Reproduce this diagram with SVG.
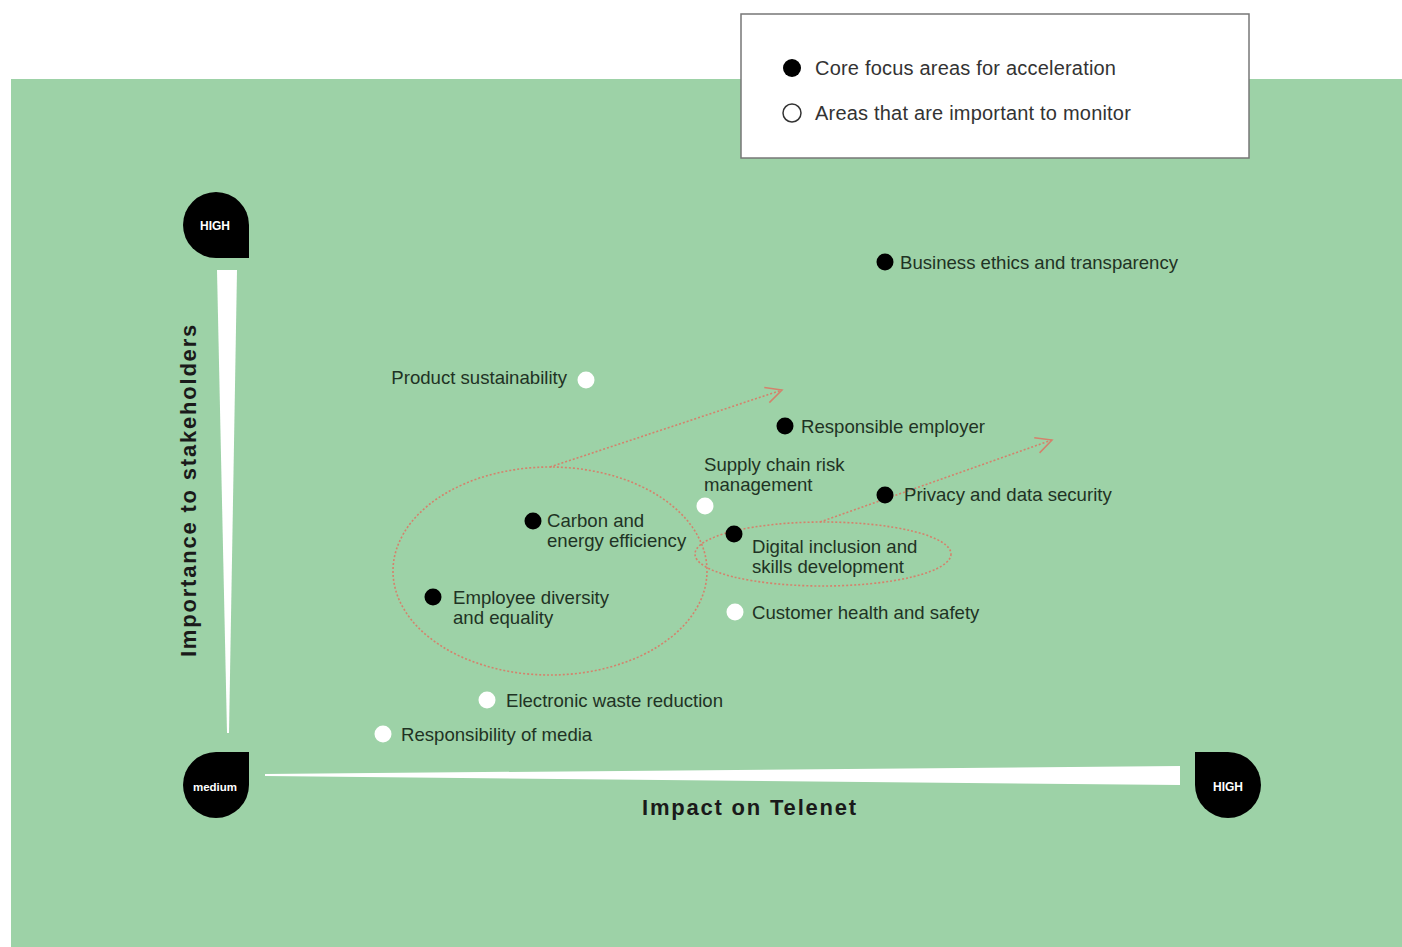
<svg xmlns="http://www.w3.org/2000/svg" width="1402" height="947" viewBox="0 0 1402 947">
<style>
.lbl{font-family:"Liberation Sans",Arial,sans-serif;font-size:18.6px;fill:#1f3324}
.leg{font-family:"Liberation Sans",Arial,sans-serif;font-size:20px;fill:#333;letter-spacing:0.2px}
.core{fill:#000}
.mon{fill:#fff}
.tag{font-family:"Liberation Sans",Arial,sans-serif;font-weight:bold;fill:#fff;text-anchor:middle}
.axis{font-family:"Liberation Sans",Arial,sans-serif;font-weight:900;font-size:22px;fill:#1a1a1a;text-anchor:middle;letter-spacing:1.8px}
.dot{fill:none;stroke:#d4826c;stroke-width:1.6;stroke-dasharray:2 2}
</style>
<defs>
<marker id="chev" viewBox="0 0 20 20" refX="18" refY="10" markerWidth="20" markerHeight="20" markerUnits="userSpaceOnUse" orient="auto">
<path d="M2,2 L18,10 L2,18" fill="none" stroke="#d4826c" stroke-width="1.5"/>
</marker>
</defs>
<rect x="0" y="0" width="1402" height="947" fill="#fff"/>
<rect x="11" y="79" width="1391" height="868" fill="#9dd2a7"/>

<g id="legend">
<rect x="741" y="14" width="508" height="144" fill="#fff" stroke="#777" stroke-width="1.5"/>
<circle cx="792" cy="68" r="9" fill="#000"/>
<text class="leg" x="815" y="75">Core focus areas for acceleration</text>
<circle cx="792" cy="113" r="9" fill="#fff" stroke="#333" stroke-width="1.5"/>
<text class="leg" x="815" y="120">Areas that are important to monitor</text>
</g>

<g id="axis-y">
<path d="M249,225 L249,258 L216,258 A33,33 0 1 1 249,225 Z" fill="#000"/>
<text class="tag" x="215" y="230" font-size="12">HIGH</text>
<polygon points="217,270 237,270 229,733 227,733" fill="#fff"/>
<text class="axis" transform="translate(196,490) rotate(-90)">Importance to stakeholders</text>
</g>

<g id="origin">
<path d="M249,785 L249,752 L216,752 A33,33 0 1 0 249,785 Z" fill="#000"/>
<text class="tag" x="215" y="791" font-size="11.5">medium</text>
</g>

<g id="axis-x">
<polygon points="265,774 1180,766 1180,785 265,776" fill="#fff"/>
<path d="M1195,785 L1195,752 L1228,752 A33,33 0 1 1 1195,785 Z" fill="#000"/>
<text class="tag" x="1228" y="791" font-size="12">HIGH</text>
<text class="axis" x="750" y="815">Impact on Telenet</text>
</g>

<g id="connectors">
<ellipse class="dot" cx="550" cy="571" rx="157" ry="104"/>
<ellipse class="dot" cx="823" cy="554" rx="128" ry="32"/>
<line class="dot" x1="550" y1="467" x2="782" y2="390" marker-end="url(#chev)"/>
<line class="dot" x1="820" y1="522" x2="1052" y2="440" marker-end="url(#chev)"/>
</g>

<g id="business-ethics">
<circle class="core" cx="885" cy="262" r="8.5"/>
<text class="lbl" x="900" y="269">Business ethics and transparency</text>
</g>
<g id="product-sustainability">
<circle class="mon" cx="586" cy="380" r="8.5"/>
<text class="lbl" x="567" y="384" text-anchor="end">Product sustainability</text>
</g>
<g id="responsible-employer">
<circle class="core" cx="785" cy="426" r="8.5"/>
<text class="lbl" x="801" y="433">Responsible employer</text>
</g>
<g id="supply-chain">
<circle class="mon" cx="705" cy="506" r="8.5"/>
<text class="lbl" x="704" y="471">Supply chain risk</text>
<text class="lbl" x="704" y="491">management</text>
</g>
<g id="privacy">
<circle class="core" cx="885" cy="495" r="8.5"/>
<text class="lbl" x="904" y="501">Privacy and data security</text>
</g>
<g id="carbon">
<circle class="core" cx="533" cy="521" r="8.5"/>
<text class="lbl" x="547" y="527">Carbon and</text>
<text class="lbl" x="547" y="547">energy efficiency</text>
</g>
<g id="digital-inclusion">
<circle class="core" cx="734" cy="534" r="8.5"/>
<text class="lbl" x="752" y="553">Digital inclusion and</text>
<text class="lbl" x="752" y="573">skills development</text>
</g>
<g id="employee-diversity">
<circle class="core" cx="433" cy="597" r="8.5"/>
<text class="lbl" x="453" y="604">Employee diversity</text>
<text class="lbl" x="453" y="624">and equality</text>
</g>
<g id="customer-health">
<circle class="mon" cx="735" cy="612" r="8.5"/>
<text class="lbl" x="752" y="619">Customer health and safety</text>
</g>
<g id="electronic-waste">
<circle class="mon" cx="487" cy="700" r="8.5"/>
<text class="lbl" x="506" y="707">Electronic waste reduction</text>
</g>
<g id="media">
<circle class="mon" cx="383" cy="734" r="8.5"/>
<text class="lbl" x="401" y="741">Responsibility of media</text>
</g>
</svg>
